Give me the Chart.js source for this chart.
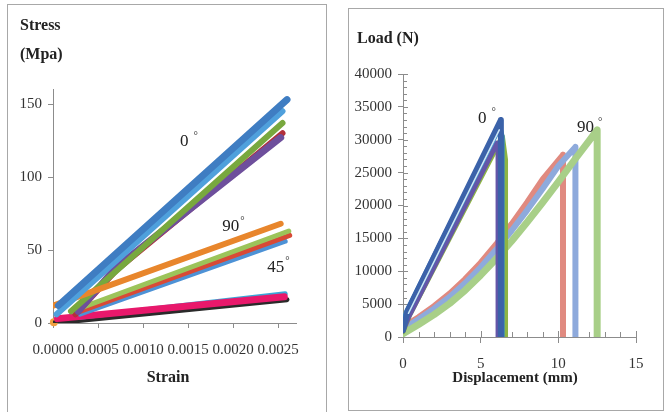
<!DOCTYPE html>
<html>
<head>
<meta charset="utf-8">
<script src="https://cdn.jsdelivr.net/npm/chart.js@4.4.1/dist/chart.umd.min.js"></script>
<style>
body{margin:0;background:#fff;width:665px;height:412px;position:relative;overflow:hidden}
.panel{position:absolute;border:1px solid #a8a8a8;box-sizing:border-box;background:#fff}
#p1{left:7px;top:4px;width:320px;height:412px}
#p2{left:348px;top:8px;width:316px;height:403px}
canvas{position:absolute;left:0;top:0}
</style>
</head>
<body>
<div class="panel" id="p1"><canvas id="stress" width="318" height="406"></canvas></div>
<div class="panel" id="p2"><canvas id="load" width="314" height="401"></canvas></div>
<script>
// ---- left chart : stress / strain ----
const strainTicks = [0, 0.0005, 0.001, 0.0015, 0.002, 0.0025];
const stressTicks = [0, 50, 100, 150];

// 0 deg
const s0BlueX = [0.00006, 0.0026];
const s0BlueY = [12, 153];
const s0LightX = [0.00004, 0.00255];
const s0LightY = [6, 145];
const s0GreenX = [0.0002, 0.00255];
const s0GreenY = [8, 137];
const s0PurpleX = [0.00028, 0.0007, 0.00253];
const s0PurpleY = [8, 38, 127];
const s0RedX = [0.00025, 0.0007, 0.00255];
const s0RedY = [6, 36, 130];
// 90 deg
const s90OrangeX = [0.00001, 0.00253];
const s90OrangeY = [12, 68];
const s90GreenX = [0.00025, 0.00262];
const s90GreenY = [9, 63];
const s90RedX = [0.0003, 0.00263];
const s90RedY = [8, 60];
const s90BlueX = [0.0003, 0.00258];
const s90BlueY = [6, 56];
// 45 deg
const s45PinkX = [0.00005, 0.00257];
const s45PinkY = [3, 18];
const s45CyanX = [0.0003, 0.00258];
const s45CyanY = [4, 20];
const s45BlackX = [0.00001, 0.0026];
const s45BlackY = [0, 16];
const sDotX = [0.00001];
const sDotY = [0.5];

// ---- right chart : load / displacement ----
const dispTicks = [0, 5, 10, 15];
const loadTicks = [0, 5000, 10000, 15000, 20000, 25000, 30000, 35000, 40000];

// 0 deg
const l0DarkX = [0, 0.3, 6.3, 6.3];
const l0DarkY = [1000, 4000, 33000, 0];
const l0TealX = [0, 0.25, 6.2, 6.35, 6.35];
const l0TealY = [1500, 3800, 32000, 30500, 0];
const l0PaleX = [0.35, 6.2];
const l0PaleY = [3600, 31500];
const l0GreenX = [0, 0.4, 6.4, 6.6, 6.6];
const l0GreenY = [800, 3200, 30500, 27000, 0];
const l0PurpleX = [0, 0.35, 6.05, 6.12, 6.12];
const l0PurpleY = [1000, 3000, 29500, 28900, 0];
// 90 deg
const l90GreenX = [0, 1, 2, 3, 4, 5, 6, 7, 8, 9, 10, 11, 12, 12.5, 12.5];
const l90GreenY = [500, 1900, 3400, 5100, 7100, 9400, 11900, 14600, 17500, 20500, 23600, 26800, 29900, 31500, 0];
const l90BlueX = [0, 1, 2, 3, 4, 5, 6, 7, 8, 9, 10, 11.1, 11.1];
const l90BlueY = [1200, 2700, 4300, 6100, 8200, 10600, 13300, 16200, 19300, 22600, 26000, 28900, 0];
const l90RedX = [0, 1, 2, 3, 4, 5, 6, 7, 8, 9, 10.3, 10.3];
const l90RedY = [1500, 3000, 4700, 6600, 8800, 11300, 14100, 17200, 20500, 24000, 27700, 0];

const axisGray = "#8c8c8c";
const serif = "'Liberation Serif', 'DejaVu Serif', serif";
Chart.defaults.font.family = serif;
Chart.defaults.color = "#333";

function pts(xs, ys) {
	return xs.map((x, i) => ({ x: x, y: ys[i] }));
}

function line(xs, ys, color, width) {
	return {
		data: pts(xs, ys),
		borderColor: color,
		backgroundColor: color,
		borderWidth: width,
		showLine: true,
		pointRadius: 0,
		borderCapStyle: "round",
		borderJoinStyle: "round",
	};
}

// texts drawn at fixed places (titles) and at data places (angle labels)
function textPlugin(id, titles, notes) {
	return {
		id: id,
		afterDraw(chart) {
			const ctx = chart.ctx;
			const { x, y } = chart.scales;
			ctx.save();
			ctx.fillStyle = "#222";
			ctx.textBaseline = "middle";
			for (const t of titles) {
				ctx.font = t.font;
				ctx.textAlign = t.align;
				ctx.fillText(t.text, t.px, t.py);
			}
			for (const n of notes) {
				const px = x.getPixelForValue(n.x);
				const py = y.getPixelForValue(n.y);
				ctx.textAlign = "left";
				ctx.font = "17px " + serif;
				ctx.fillText(n.text, px, py);
				const w = ctx.measureText(n.text).width;
				ctx.font = "11px " + serif;
				ctx.fillText("°", px + w + n.gap, py - 6);
			}
			ctx.restore();
		},
	};
}

// fixed plot area
function fixWidth(w) {
	return (scale) => { scale.width = w; };
}
function fixHeight(h) {
	return (scale) => { scale.height = h; };
}

const tickFont = { size: 15, family: serif };

new Chart(document.querySelector("#stress"), {
	type: "scatter",
	data: {
		datasets: [
			line(s0BlueX, s0BlueY, "#3f7dc2", 7),
			line(s0LightX, s0LightY, "#4fa0dc", 6),
			line(s90OrangeX, s90OrangeY, "#e8862c", 6),
			line(s0GreenX, s0GreenY, "#78a83e", 6),
			line(s0PurpleX, s0PurpleY, "#6e4f9c", 7),
			line(s0RedX, s0RedY, "#b3303a", 6),
			line(s90GreenX, s90GreenY, "#9cc45a", 5),
			line(s90RedX, s90RedY, "#d84a36", 5),
			line(s90BlueX, s90BlueY, "#4d92d6", 5),
			line(s45PinkX, s45PinkY, "#e8186b", 7),
			line(s45CyanX, s45CyanY, "#3aa6d8", 5),
			line(s45BlackX, s45BlackY, "#2a2a2a", 5),
			Object.assign(line(sDotX, sDotY, "#f0a040", 0), { pointRadius: 4, clip: false }),
		],
	},
	options: {
		responsive: false,
		animation: false,
		layout: { padding: { top: 84.4, right: 30, left: 0, bottom: 0 } },
		plugins: { legend: { display: false }, tooltip: { enabled: false } },
		scales: {
			x: {
				type: "linear",
				min: 0,
				max: 0.0027,
				afterFit: fixHeight(88),
				afterBuildTicks: (scale) => { scale.ticks = strainTicks.map(v => ({ value: v })); },
				ticks: { font: tickFont, padding: 13, maxRotation: 0, callback: v => v.toFixed(4) },
				grid: { drawOnChartArea: false, tickLength: 5, color: axisGray },
				border: { color: axisGray },
			},
			y: {
				type: "linear",
				min: 0,
				max: 160,
				afterFit: fixWidth(45),
				afterBuildTicks: (scale) => { scale.ticks = stressTicks.map(v => ({ value: v })); },
				ticks: { font: tickFont, padding: 6 },
				grid: { drawOnChartArea: false, tickLength: 5, color: axisGray },
				border: { color: axisGray },
			},
		},
	},
	plugins: [textPlugin("stressText", [
		{ text: "Stress", px: 12, py: 21, align: "left", font: "bold 16px " + serif },
		{ text: "(Mpa)", px: 12, py: 50, align: "left", font: "bold 16px " + serif },
		{ text: "Strain", px: 160, py: 373, align: "center", font: "bold 16px " + serif },
	], [
		{ text: "0", x: 0.00141, y: 124, gap: 5 },
		{ text: "90", x: 0.00188, y: 66, gap: 1 },
		{ text: "45", x: 0.00238, y: 38, gap: 1 },
	])],
});

const minorTicks = {
	id: "minorTicks",
	beforeDatasetsDraw(chart) {
		const ctx = chart.ctx;
		const { x, y } = chart.scales;
		ctx.save();
		ctx.strokeStyle = axisGray;
		ctx.lineWidth = 1;
		ctx.beginPath();
		for (let v = 0; v <= 40000; v += 1000) {
			const py = Math.round(y.getPixelForValue(v)) + 0.5;
			const len = v % 5000 === 0 ? 5 : 4;
			ctx.moveTo(x.left, py);
			ctx.lineTo(x.left + len, py);
		}
		for (let v = 0; v <= 15; v += 1) {
			const px = Math.round(x.getPixelForValue(v)) + 0.5;
			const len = v % 5 === 0 ? 6 : 5;
			ctx.moveTo(px, y.bottom);
			ctx.lineTo(px, y.bottom - len);
		}
		ctx.stroke();
		ctx.restore();
	},
};

new Chart(document.querySelector("#load"), {
	type: "scatter",
	data: {
		datasets: [
			line(l0PaleX, l0PaleY, "#cfe8f6", 1.5),
			line(l0DarkX, l0DarkY, "#3b62a9", 6),
			line(l0TealX, l0TealY, "#3186c4", 6),
			line(l0PurpleX, l0PurpleY, "#6456a8", 5),
			line(l0GreenX, l0GreenY, "#8db445", 5),
			line(l90GreenX, l90GreenY, "#a8cf88", 7),
			line(l90BlueX, l90BlueY, "#8eaadc", 6),
			line(l90RedX, l90RedY, "#e08a80", 6),
		],
	},
	options: {
		responsive: false,
		animation: false,
		layout: { padding: { top: 65, right: 27, left: 0, bottom: 0 } },
		plugins: { legend: { display: false }, tooltip: { enabled: false } },
		scales: {
			x: {
				type: "linear",
				min: 0,
				max: 15,
				afterFit: fixHeight(73),
				afterBuildTicks: (scale) => { scale.ticks = dispTicks.map(v => ({ value: v })); },
				ticks: { font: tickFont, padding: 12, maxRotation: 0 },
				grid: { drawOnChartArea: false, tickLength: 6, color: axisGray },
				border: { color: axisGray },
			},
			y: {
				type: "linear",
				min: 0,
				max: 40000,
				afterFit: fixWidth(54),
				afterBuildTicks: (scale) => { scale.ticks = loadTicks.map(v => ({ value: v })); },
				ticks: { font: tickFont, padding: 6, callback: v => String(v) },
				grid: { drawOnChartArea: false, tickLength: 5, color: axisGray },
				border: { color: axisGray },
			},
		},
	},
	plugins: [minorTicks, textPlugin("loadText", [
		{ text: "Load (N)", px: 8, py: 30, align: "left", font: "bold 16px " + serif },
		{ text: "Displacement (mm)", px: 166, py: 369, align: "center", font: "bold 15px " + serif },
	], [
		{ text: "0", x: 4.83, y: 33300, gap: 5 },
		{ text: "90", x: 11.2, y: 31800, gap: 4 },
	])],
});
</script>
</body>
</html>
